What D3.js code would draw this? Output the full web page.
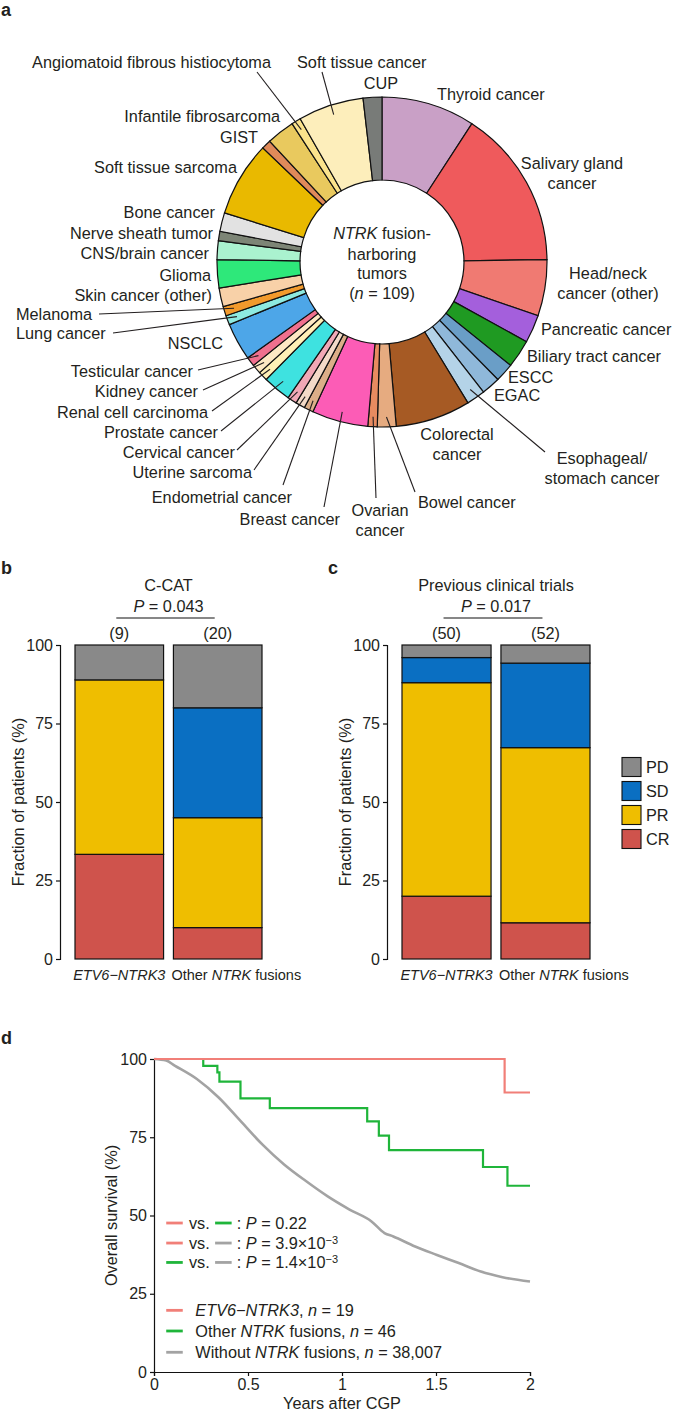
<!DOCTYPE html>
<html>
<head>
<meta charset="utf-8">
<script src="https://cdn.jsdelivr.net/npm/d3@7"></script>
<style>
  body { margin: 0; background: #fff; }
  text { font-family: "Liberation Sans", Arial, sans-serif; fill: #231f20; }
</style>
</head>
<body>
<svg id="fig"></svg>
<script>
// ---- panel a: tumour types (clockwise from 12 o'clock) ----
const tumorTypes = ["Thyroid cancer", "Salivary gland cancer", "Head/neck cancer (other)", "Pancreatic cancer",
  "Biliary tract cancer", "ESCC", "EGAC", "Esophageal/stomach cancer", "Colorectal cancer", "Bowel cancer",
  "Ovarian cancer", "Breast cancer", "Endometrial cancer", "Uterine sarcoma", "Cervical cancer", "Prostate cancer",
  "Renal cell carcinoma", "Kidney cancer", "Testicular cancer", "NSCLC", "Lung cancer", "Melanoma",
  "Skin cancer (other)", "Glioma", "CNS/brain cancer", "Nerve sheath tumor", "Bone cancer", "Soft tissue sarcoma",
  "GIST", "Infantile fibrosarcoma", "Angiomatoid fibrous histiocytoma", "Soft tissue cancer", "CUP"];
const tumorCounts = [10, 17, 6, 3, 3, 2, 2, 2, 8, 2, 1, 6, 1, 1, 1, 3, 1, 1, 1, 4, 1, 1, 2, 3, 2, 1, 2, 8, 1, 3, 1, 7, 2];
const tumorColors = ["#c9a0c6", "#ef5a5c", "#f07a72", "#a45fdc", "#1f9a22", "#6a9ec7", "#8fb8da", "#b4d3e8",
  "#a65a24", "#e6ab80", "#e88b60", "#fc5cb6", "#dcae88", "#f3dac8", "#f1a8b6", "#3ee2e0",
  "#fff0b6", "#fde9c4", "#f0708e", "#4da6e8", "#8eeae0", "#f29a2c", "#f8d1a8", "#2ee87a",
  "#aaf2cf", "#7d8576", "#e2e2e2", "#e9b900", "#e08a5a", "#e9c95e", "#fbe38c", "#fdeebb", "#787b78"];

// ---- panels b, c: best response ----
const responseCats = ["CR", "PR", "SD", "PD"];
const responseColors = ["#cf534c", "#efbe00", "#0a6fc2", "#898989"];
const fusionGroups = ["ETV6-NTRK3", "Other"];
const ccatCounts = [[3, 5, 0, 1], [2, 7, 7, 4]];
const trialCounts = [[10, 34, 4, 2], [6, 29, 14, 3]];
const pctTicks = [0, 25, 50, 75, 100];

// ---- panel d: overall survival ----
const etvTimes = [0, 1.865, 2.0];
const etvSurv = [100, 89.3, 89.3];
const otherTimes = [0, 0.262, 0.337, 0.348, 0.46, 0.616, 1.134, 1.196, 1.25, 1.75, 1.88, 2.0];
const otherSurv = [100, 97.8, 95.7, 92.8, 87.4, 84.3, 80.1, 75.5, 70.9, 65.5, 59.5, 59.5];
const withoutTimes = [0, 0.065, 0.11, 0.228, 0.344, 0.46, 0.576, 0.692, 0.808, 0.924, 1.04, 1.157, 1.226, 1.273, 1.389, 1.505, 1.621, 1.738, 1.854, 2.0];
const withoutSurv = [100, 99.5, 97.9, 93.6, 87.7, 80.2, 72.7, 66.3, 61.0, 56.1, 51.9, 48.1, 44.4, 43.3, 40.1, 37.4, 34.8, 32.1, 30.3, 28.9];
const yearTicks = [0, 0.5, 1, 1.5, 2];

const FS = "16.3px";
const svg = d3.select("#fig").attr("width", 685).attr("height", 1411);

const panelLetter = (x, y, t) => svg.append("text").attr("x", x).attr("y", y)
  .style("font-size", "18px").style("font-weight", "bold").text(t);

// =================== a: donut ===================
panelLetter(1, 16, "a");
const cx = 382, cy = 262, rOut = 165, rIn = 82;
const donut = svg.append("g").attr("transform", `translate(${cx},${cy})`);
const pie = d3.pie().sort(null).value(d => d.n);
const slices = pie(tumorTypes.map((t, i) => ({ t, n: tumorCounts[i], c: tumorColors[i] })));
const arc = d3.arc().innerRadius(rIn).outerRadius(rOut);

donut.selectAll("path").data(slices).enter().append("path")
  .attr("d", arc)
  .style("fill", d => d.data.c)
  .style("stroke", "#111")
  .style("stroke-width", 1.2);

const centre = donut.append("g").attr("text-anchor", "middle").style("font-size", FS);
centre.append("text").attr("y", -29).attr("dy", "0.35em")
  .call(t => { t.append("tspan").style("font-style", "italic").text("NTRK"); t.append("tspan").text(" fusion-"); });
centre.append("text").attr("y", -8).attr("dy", "0.35em").text("harboring");
centre.append("text").attr("y", 11).attr("dy", "0.35em").text("tumors");
centre.append("text").attr("y", 31).attr("dy", "0.35em")
  .call(t => { t.append("tspan").text("("); t.append("tspan").style("font-style", "italic").text("n");
    t.append("tspan").text(" = 109)"); });

// label layout: lines, anchor, x, y (centre of first line), optional leader end
const labelLayout = [
  { t: "Thyroid cancer", lines: ["Thyroid cancer"], a: "start", x: 437, y: 94 },
  { t: "Salivary gland cancer", lines: ["Salivary gland", "cancer"], a: "middle", x: 572, y: 163 },
  { t: "Head/neck cancer (other)", lines: ["Head/neck", "cancer (other)"], a: "middle", x: 608, y: 273 },
  { t: "Pancreatic cancer", lines: ["Pancreatic cancer"], a: "start", x: 541, y: 329 },
  { t: "Biliary tract cancer", lines: ["Biliary tract cancer"], a: "start", x: 527, y: 356 },
  { t: "ESCC", lines: ["ESCC"], a: "start", x: 508, y: 377 },
  { t: "EGAC", lines: ["EGAC"], a: "start", x: 494, y: 395 },
  { t: "Esophageal/stomach cancer", lines: ["Esophageal/", "stomach cancer"], a: "middle", x: 602, y: 458, lx: 545, ly: 452 },
  { t: "Colorectal cancer", lines: ["Colorectal", "cancer"], a: "middle", x: 457, y: 434 },
  { t: "Bowel cancer", lines: ["Bowel cancer"], a: "start", x: 418, y: 502, lx: 415, ly: 492 },
  { t: "Ovarian cancer", lines: ["Ovarian", "cancer"], a: "middle", x: 380, y: 510, lx: 376, ly: 498 },
  { t: "Breast cancer", lines: ["Breast cancer"], a: "end", x: 340, y: 519, lx: 324, ly: 507 },
  { t: "Endometrial cancer", lines: ["Endometrial cancer"], a: "end", x: 292, y: 497, lx: 283, ly: 485 },
  { t: "Uterine sarcoma", lines: ["Uterine sarcoma"], a: "end", x: 252, y: 472, lx: 254, ly: 470 },
  { t: "Cervical cancer", lines: ["Cervical cancer"], a: "end", x: 235, y: 452, lx: 237, ly: 450 },
  { t: "Prostate cancer", lines: ["Prostate cancer"], a: "end", x: 218, y: 432, lx: 221, ly: 431 },
  { t: "Renal cell carcinoma", lines: ["Renal cell carcinoma"], a: "end", x: 208, y: 412, lx: 212, ly: 411 },
  { t: "Kidney cancer", lines: ["Kidney cancer"], a: "end", x: 198, y: 391, lx: 203, ly: 390 },
  { t: "Testicular cancer", lines: ["Testicular cancer"], a: "end", x: 193, y: 371, lx: 198, ly: 370 },
  { t: "NSCLC", lines: ["NSCLC"], a: "end", x: 223, y: 343 },
  { t: "Lung cancer", lines: ["Lung cancer"], a: "start", x: 16, y: 333, lx: 113, ly: 333 },
  { t: "Melanoma", lines: ["Melanoma"], a: "start", x: 16, y: 314, lx: 99, ly: 314 },
  { t: "Skin cancer (other)", lines: ["Skin cancer (other)"], a: "end", x: 212, y: 295 },
  { t: "Glioma", lines: ["Glioma"], a: "end", x: 211, y: 275 },
  { t: "CNS/brain cancer", lines: ["CNS/brain cancer"], a: "end", x: 209, y: 253 },
  { t: "Nerve sheath tumor", lines: ["Nerve sheath tumor"], a: "end", x: 213, y: 233 },
  { t: "Bone cancer", lines: ["Bone cancer"], a: "end", x: 215, y: 212 },
  { t: "Soft tissue sarcoma", lines: ["Soft tissue sarcoma"], a: "end", x: 237, y: 167 },
  { t: "GIST", lines: ["GIST"], a: "end", x: 258, y: 137 },
  { t: "Infantile fibrosarcoma", lines: ["Infantile fibrosarcoma"], a: "end", x: 280, y: 116 },
  { t: "Angiomatoid fibrous histiocytoma", lines: ["Angiomatoid fibrous histiocytoma"], a: "end", x: 271, y: 62, lx: 257, ly: 72 },
  { t: "Soft tissue cancer", lines: ["Soft tissue cancer"], a: "start", x: 297, y: 62, lx: 322, ly: 72 },
  { t: "CUP", lines: ["CUP"], a: "middle", x: 381, y: 83 }
];

const labelG = svg.append("g");
labelLayout.forEach(l => {
  const s = slices[tumorTypes.indexOf(l.t)];
  if (l.lx !== undefined) {
    const mid = (s.startAngle + s.endAngle) / 2;
    const rr = rOut - 10;
    labelG.append("line")
      .attr("x1", cx + rr * Math.sin(mid)).attr("y1", cy - rr * Math.cos(mid))
      .attr("x2", l.lx).attr("y2", l.ly)
      .style("stroke", "#231f20").style("stroke-width", 1.1);
  }
  l.lines.forEach((line, k) => {
    labelG.append("text").attr("x", l.x).attr("y", l.y + k * 20).attr("dy", "0.35em")
      .attr("text-anchor", l.a).style("font-size", FS).text(line);
  });
});

// =================== b, c: stacked bars ===================
const stack = d3.stack().keys(d3.range(responseCats.length));
const yBar = d3.scaleLinear().domain([0, 100]).range([959, 645]);

function styleAxis(a) {
  a.select(".domain").style("stroke", "#111").style("stroke-width", 1.2);
  a.selectAll(".tick line").style("stroke", "#111").style("stroke-width", 1.2);
  a.selectAll(".tick text").style("font-size", "16px")
    .style("font-family", "Liberation Sans, Arial, sans-serif").style("fill", "#231f20");
}

function drawBars(opts) {
  const { x0, x1, axisX, title, pText, counts } = opts;
  const x = d3.scaleBand().domain(fusionGroups).range([x0, x1]).paddingInner(0.1);
  const pct = counts.map(c => { const tot = d3.sum(c); return c.map(v => v / tot * 100); });
  const series = stack(pct);
  const g = svg.append("g");

  g.selectAll("g.layer").data(series).enter().append("g")
    .style("fill", d => responseColors[d.key])
    .selectAll("rect").data(d => d.map((v, i) => ({ v, i }))).enter().append("rect")
    .attr("x", d => x(fusionGroups[d.i]))
    .attr("width", x.bandwidth())
    .attr("y", d => yBar(d.v[1]))
    .attr("height", d => yBar(d.v[0]) - yBar(d.v[1]))
    .style("stroke", "#111").style("stroke-width", 1.2);

  const ax = g.append("g").attr("transform", `translate(${axisX},0)`)
    .call(d3.axisLeft(yBar).tickValues(pctTicks).tickSize(4).tickPadding(3));
  styleAxis(ax);

  g.append("text").attr("transform", `translate(${axisX - 42},${yBar(50)}) rotate(-90)`)
    .attr("text-anchor", "middle").attr("dy", "0.35em").style("font-size", FS).text("Fraction of patients (%)");

  const c0 = x(fusionGroups[0]) + x.bandwidth() / 2, c1 = x(fusionGroups[1]) + x.bandwidth() / 2;
  const cm = (c0 + c1) / 2;
  g.append("text").attr("x", cm).attr("y", 585).attr("dy", "0.35em").attr("text-anchor", "middle")
    .style("font-size", FS).text(title);
  g.append("text").attr("x", cm).attr("y", 606).attr("dy", "0.35em").attr("text-anchor", "middle")
    .style("font-size", FS)
    .call(t => { t.append("tspan").style("font-style", "italic").text("P"); t.append("tspan").text(" = " + pText); });
  g.append("line").attr("x1", c0 - 3).attr("x2", c1 - 3).attr("y1", 618).attr("y2", 618)
    .style("stroke", "#111").style("stroke-width", 1.2);
  counts.forEach((c, i) => {
    g.append("text").attr("x", i ? c1 : c0).attr("y", 633).attr("dy", "0.35em").attr("text-anchor", "middle")
      .style("font-size", FS).text(`(${d3.sum(c)})`);
  });

  g.append("text").attr("x", c0).attr("y", 975).attr("dy", "0.35em").attr("text-anchor", "middle")
    .style("font-size", "14.5px").style("font-style", "italic").text("ETV6\u2212NTRK3");
  g.append("text").attr("x", x(fusionGroups[1]) - 2).attr("y", 975).attr("dy", "0.35em")
    .style("font-size", "14.5px")
    .call(t => { t.append("tspan").text("Other "); t.append("tspan").style("font-style", "italic").text("NTRK");
      t.append("tspan").text(" fusions"); });
}

panelLetter(1, 574, "b");
drawBars({ x0: 75, x1: 262, axisX: 60, title: "C-CAT", pText: "0.043", counts: ccatCounts });
panelLetter(328, 574, "c");
drawBars({ x0: 402, x1: 590, axisX: 387, title: "Previous clinical trials", pText: "0.017", counts: trialCounts });

// legend
const legY = d3.scalePoint().domain(responseCats.slice().reverse()).range([767, 839]);
const leg = svg.append("g");
responseCats.forEach((k, i) => {
  leg.append("rect").attr("x", 622).attr("y", legY(k) - 9.5).attr("width", 19).attr("height", 19)
    .style("fill", responseColors[i]).style("stroke", "#111").style("stroke-width", 1.1);
  leg.append("text").attr("x", 646).attr("y", legY(k)).attr("dy", "0.35em").style("font-size", FS).text(k);
});

// =================== d: survival ===================
panelLetter(1, 1044, "d");
const xs = d3.scaleLinear().domain([0, 2]).range([154, 530]);
const ys = d3.scaleLinear().domain([0, 100]).range([1372, 1059]);
const dG = svg.append("g");

const xAx = dG.append("g").attr("transform", `translate(0,${ys(0)})`)
  .call(d3.axisBottom(xs).tickValues(yearTicks).tickFormat(d3.format("")).tickSize(4).tickPadding(3));
const yAx = dG.append("g").attr("transform", `translate(${xs(0)},0)`)
  .call(d3.axisLeft(ys).tickValues(pctTicks).tickSize(4).tickPadding(3));
styleAxis(xAx);
styleAxis(yAx);

dG.append("text").attr("x", (xs(0) + xs(2)) / 2).attr("y", 1403).attr("dy", "0.35em").attr("text-anchor", "middle")
  .style("font-size", FS).text("Years after CGP");
dG.append("text").attr("transform", `translate(111,${ys(50)}) rotate(-90)`).attr("text-anchor", "middle")
  .attr("dy", "0.35em").style("font-size", FS).text("Overall survival (%)");

const colRed = "#f17f78", colGreen = "#1fb53a", colGray = "#a3a3a3";
const step = d3.line().x(d => xs(d[0])).y(d => ys(d[1])).curve(d3.curveStepAfter);
const smooth = d3.line().x(d => xs(d[0])).y(d => ys(d[1])).curve(d3.curveMonotoneX);

dG.append("path").datum(d3.zip(withoutTimes, withoutSurv)).attr("d", smooth)
  .style("fill", "none").style("stroke", colGray).style("stroke-width", 2.6);
dG.append("path").datum(d3.zip(otherTimes, otherSurv)).attr("d", step)
  .style("fill", "none").style("stroke", colGreen).style("stroke-width", 2.2);
dG.append("path").datum(d3.zip(etvTimes, etvSurv)).attr("d", step)
  .style("fill", "none").style("stroke", colRed).style("stroke-width", 2.2);

// p-value legend
const pairs = [[colRed, colGreen, "0.22", null], [colRed, colGray, "3.9\u00d710", "\u22123"], [colGreen, colGray, "1.4\u00d710", "\u22123"]];
const pairY = [47.6, 41.2, 35.0];
pairs.forEach((p, i) => {
  const yy = ys(pairY[i]);
  dG.append("line").attr("x1", xs(0.065)).attr("x2", xs(0.153)).attr("y1", yy).attr("y2", yy)
    .style("stroke", p[0]).style("stroke-width", 2.8);
  dG.append("text").attr("x", xs(0.186)).attr("y", yy).attr("dy", "0.35em").style("font-size", FS).text("vs.");
  dG.append("line").attr("x1", xs(0.325)).attr("x2", xs(0.413)).attr("y1", yy).attr("y2", yy)
    .style("stroke", p[1]).style("stroke-width", 2.8);
  const t = dG.append("text").attr("x", xs(0.44)).attr("y", yy).attr("dy", "0.35em").style("font-size", FS);
  t.append("tspan").text(": ");
  t.append("tspan").style("font-style", "italic").text("P");
  t.append("tspan").text(" = " + p[2]);
  if (p[3]) t.append("tspan").attr("dy", "-0.45em").style("font-size", "11px").text(p[3]);
});

// group legend
const groups = [
  { c: colRed, v: 19.7, parts: [["ETV6\u2212NTRK3", true], [", ", false], ["n", true], [" = 19", false]] },
  { c: colGreen, v: 13.1, parts: [["Other ", false], ["NTRK", true], [" fusions, ", false], ["n", true], [" = 46", false]] },
  { c: colGray, v: 6.3, parts: [["Without ", false], ["NTRK", true], [" fusions, ", false], ["n", true], [" = 38,007", false]] }
];
groups.forEach(gp => {
  const yy = ys(gp.v);
  dG.append("line").attr("x1", xs(0.065)).attr("x2", xs(0.153)).attr("y1", yy).attr("y2", yy)
    .style("stroke", gp.c).style("stroke-width", 2.8);
  const t = dG.append("text").attr("x", xs(0.22)).attr("y", yy).attr("dy", "0.35em").style("font-size", FS);
  gp.parts.forEach(pt => t.append("tspan").style("font-style", pt[1] ? "italic" : "normal").text(pt[0]));
});
</script>
</body>
</html>
